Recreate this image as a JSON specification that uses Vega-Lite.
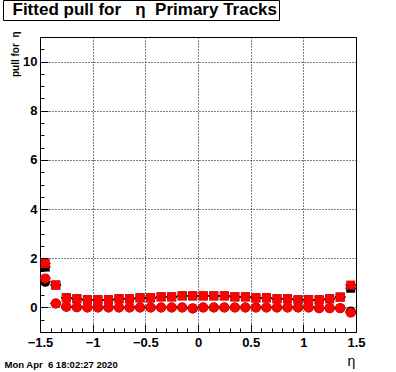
{
  "$schema": "https://vega.github.io/schema/vega-lite/v6.json",
  "width": 316,
  "height": 295,
  "autosize": {"type": "none"},
  "padding": {"left": 40, "top": 37, "right": 40, "bottom": 40},
  "config": {
    "font": "Liberation Sans",
    "view": {"stroke": "black", "strokeWidth": 1},
    "axis": {"labelFlush": false, "labelOverlap": false, "labelBound": false, "domain": false, "tickColor": "black", "labelColor": "black", "titleColor": "black"}
  },
  "data": {"values": [
      {"eta": -1.45, "lo": -1.5, "hi": -1.4, "s": "sq", "red": 1.79, "blk": 1.64},
      {"eta": -1.35, "lo": -1.4, "hi": -1.3, "s": "sq", "red": 0.91, "blk": 0.91},
      {"eta": -1.25, "lo": -1.3, "hi": -1.2, "s": "sq", "red": 0.39, "blk": 0.39},
      {"eta": -1.15, "lo": -1.2, "hi": -1.1, "s": "sq", "red": 0.35, "blk": 0.35},
      {"eta": -1.05, "lo": -1.1, "hi": -1.0, "s": "sq", "red": 0.31, "blk": 0.31},
      {"eta": -0.95, "lo": -1.0, "hi": -0.9, "s": "sq", "red": 0.31, "blk": 0.31},
      {"eta": -0.85, "lo": -0.9, "hi": -0.8, "s": "sq", "red": 0.31, "blk": 0.31},
      {"eta": -0.75, "lo": -0.8, "hi": -0.7, "s": "sq", "red": 0.35, "blk": 0.35},
      {"eta": -0.65, "lo": -0.7, "hi": -0.6, "s": "sq", "red": 0.35, "blk": 0.35},
      {"eta": -0.55, "lo": -0.6, "hi": -0.5, "s": "sq", "red": 0.39, "blk": 0.39},
      {"eta": -0.45, "lo": -0.5, "hi": -0.4, "s": "sq", "red": 0.39, "blk": 0.39},
      {"eta": -0.35, "lo": -0.4, "hi": -0.3, "s": "sq", "red": 0.43, "blk": 0.43},
      {"eta": -0.25, "lo": -0.3, "hi": -0.2, "s": "sq", "red": 0.43, "blk": 0.43},
      {"eta": -0.15, "lo": -0.2, "hi": -0.1, "s": "sq", "red": 0.47, "blk": 0.47},
      {"eta": -0.05, "lo": -0.1, "hi": 0.0, "s": "sq", "red": 0.47, "blk": 0.47},
      {"eta": 0.05, "lo": 0.0, "hi": 0.1, "s": "sq", "red": 0.47, "blk": 0.47},
      {"eta": 0.15, "lo": 0.1, "hi": 0.2, "s": "sq", "red": 0.47, "blk": 0.47},
      {"eta": 0.25, "lo": 0.2, "hi": 0.3, "s": "sq", "red": 0.47, "blk": 0.47},
      {"eta": 0.35, "lo": 0.3, "hi": 0.4, "s": "sq", "red": 0.43, "blk": 0.43},
      {"eta": 0.45, "lo": 0.4, "hi": 0.5, "s": "sq", "red": 0.43, "blk": 0.43},
      {"eta": 0.55, "lo": 0.5, "hi": 0.6, "s": "sq", "red": 0.39, "blk": 0.39},
      {"eta": 0.65, "lo": 0.6, "hi": 0.7, "s": "sq", "red": 0.39, "blk": 0.39},
      {"eta": 0.75, "lo": 0.7, "hi": 0.8, "s": "sq", "red": 0.35, "blk": 0.35},
      {"eta": 0.85, "lo": 0.8, "hi": 0.9, "s": "sq", "red": 0.35, "blk": 0.35},
      {"eta": 0.95, "lo": 0.9, "hi": 1.0, "s": "sq", "red": 0.31, "blk": 0.31},
      {"eta": 1.05, "lo": 1.0, "hi": 1.1, "s": "sq", "red": 0.31, "blk": 0.31},
      {"eta": 1.15, "lo": 1.1, "hi": 1.2, "s": "sq", "red": 0.31, "blk": 0.31},
      {"eta": 1.25, "lo": 1.2, "hi": 1.3, "s": "sq", "red": 0.35, "blk": 0.35},
      {"eta": 1.35, "lo": 1.3, "hi": 1.4, "s": "sq", "red": 0.42, "blk": 0.42},
      {"eta": 1.45, "lo": 1.4, "hi": 1.5, "s": "sq", "red": 0.91, "blk": 0.78},
      {"eta": -1.45, "lo": -1.5, "hi": -1.4, "s": "ci", "red": 1.18, "blk": 1.04},
      {"eta": -1.35, "lo": -1.4, "hi": -1.3, "s": "ci", "red": 0.16, "blk": 0.16},
      {"eta": -1.25, "lo": -1.3, "hi": -1.2, "s": "ci", "red": 0.03, "blk": 0.03},
      {"eta": -1.15, "lo": -1.2, "hi": -1.1, "s": "ci", "red": 0.01, "blk": 0.01},
      {"eta": -1.05, "lo": -1.1, "hi": -1.0, "s": "ci", "red": 0.0, "blk": 0.0},
      {"eta": -0.95, "lo": -1.0, "hi": -0.9, "s": "ci", "red": 0.0, "blk": 0.0},
      {"eta": -0.85, "lo": -0.9, "hi": -0.8, "s": "ci", "red": 0.0, "blk": 0.0},
      {"eta": -0.75, "lo": -0.8, "hi": -0.7, "s": "ci", "red": 0.0, "blk": 0.0},
      {"eta": -0.65, "lo": -0.7, "hi": -0.6, "s": "ci", "red": 0.0, "blk": 0.0},
      {"eta": -0.55, "lo": -0.6, "hi": -0.5, "s": "ci", "red": 0.0, "blk": 0.0},
      {"eta": -0.45, "lo": -0.5, "hi": -0.4, "s": "ci", "red": 0.0, "blk": 0.0},
      {"eta": -0.35, "lo": -0.4, "hi": -0.3, "s": "ci", "red": 0.0, "blk": 0.0},
      {"eta": -0.25, "lo": -0.3, "hi": -0.2, "s": "ci", "red": 0.0, "blk": 0.0},
      {"eta": -0.15, "lo": -0.2, "hi": -0.1, "s": "ci", "red": 0.0, "blk": 0.0},
      {"eta": -0.05, "lo": -0.1, "hi": 0.0, "s": "ci", "red": -0.04, "blk": -0.04},
      {"eta": 0.05, "lo": 0.0, "hi": 0.1, "s": "ci", "red": 0.0, "blk": 0.0},
      {"eta": 0.15, "lo": 0.1, "hi": 0.2, "s": "ci", "red": 0.0, "blk": 0.0},
      {"eta": 0.25, "lo": 0.2, "hi": 0.3, "s": "ci", "red": 0.0, "blk": 0.0},
      {"eta": 0.35, "lo": 0.3, "hi": 0.4, "s": "ci", "red": 0.0, "blk": 0.0},
      {"eta": 0.45, "lo": 0.4, "hi": 0.5, "s": "ci", "red": 0.0, "blk": 0.0},
      {"eta": 0.55, "lo": 0.5, "hi": 0.6, "s": "ci", "red": 0.0, "blk": 0.0},
      {"eta": 0.65, "lo": 0.6, "hi": 0.7, "s": "ci", "red": 0.0, "blk": 0.0},
      {"eta": 0.75, "lo": 0.7, "hi": 0.8, "s": "ci", "red": 0.0, "blk": 0.0},
      {"eta": 0.85, "lo": 0.8, "hi": 0.9, "s": "ci", "red": 0.0, "blk": 0.0},
      {"eta": 0.95, "lo": 0.9, "hi": 1.0, "s": "ci", "red": 0.0, "blk": 0.0},
      {"eta": 1.05, "lo": 1.0, "hi": 1.1, "s": "ci", "red": 0.0, "blk": 0.0},
      {"eta": 1.15, "lo": 1.1, "hi": 1.2, "s": "ci", "red": -0.03, "blk": -0.03},
      {"eta": 1.25, "lo": 1.2, "hi": 1.3, "s": "ci", "red": -0.03, "blk": -0.03},
      {"eta": 1.35, "lo": 1.3, "hi": 1.4, "s": "ci", "red": -0.03, "blk": -0.03},
      {"eta": 1.45, "lo": 1.4, "hi": 1.5, "s": "ci", "red": -0.22, "blk": -0.17}
  ]},
  "resolve": {"axis": {"x": "independent", "y": "independent"}},
  "layer": [
    {
      "mark": {"type": "rule", "color": "black", "strokeWidth": 1.5},
      "encoding": {
        "x": {"field": "lo", "type": "quantitative", "scale": {"domain": [-1.5, 1.5], "nice": false, "zero": false},
          "axis": {"orient": "bottom", "values": [-1.5, -1, -0.5, 0, 0.5, 1, 1.5], "format": "~g", "grid": true, "gridColor": "black", "gridDash": [1, 2], "gridOpacity": 1, "tickSize": -8, "labelFontSize": 13, "labelFontWeight": "bold", "labelPadding": 12, "title": "η", "titleFontSize": 14, "titleFontWeight": "normal", "titleX": 311, "titleY": 29, "titleAlign": "center", "titleBaseline": "middle"}},
        "x2": {"field": "hi"},
        "y": {"field": "blk", "type": "quantitative", "scale": {"domain": [-1, 11], "nice": false, "zero": false},
          "axis": {"orient": "left", "values": [0, 2, 4, 6, 8, 10], "grid": true, "gridColor": "black", "gridDash": [1, 2], "gridOpacity": 1, "tickSize": -8, "labelFontSize": 13, "labelFontWeight": "bold", "labelPadding": 11, "title": "pull for\u00a0\u00a0η", "titleFontSize": 10, "titleFontWeight": "bold", "titleAngle": 270, "titleAlign": "right", "titleBaseline": "alphabetic", "titleX": -22, "titleY": -6}}
      }
    },
    {
      "mark": {"type": "rule", "color": "black", "strokeWidth": 1.5},
      "encoding": {
        "x": {"field": "lo", "type": "quantitative", "scale": {"domain": [-1.5, 1.5], "nice": false, "zero": false},
          "axis": {"orient": "bottom", "values": [-1.5, -1.4, -1.3, -1.2, -1.1, -1, -0.9, -0.8, -0.7, -0.6, -0.5, -0.4, -0.3, -0.2, -0.1, 0, 0.1, 0.2, 0.3, 0.4, 0.5, 0.6, 0.7, 0.8, 0.9, 1, 1.1, 1.2, 1.3, 1.4, 1.5], "labels": false, "grid": false, "tickSize": -4, "title": "Mon Apr\u00a0\u00a06 18:02:27 2020", "titleFontSize": 9.5, "titleFontWeight": "bold", "titleX": -36, "titleY": 32, "titleAlign": "left", "titleBaseline": "middle"}},
        "x2": {"field": "hi"},
        "y": {"field": "red", "type": "quantitative", "scale": {"domain": [-1, 11], "nice": false, "zero": false},
          "axis": {"orient": "left", "values": [-1, -0.5, 0, 0.5, 1, 1.5, 2, 2.5, 3, 3.5, 4, 4.5, 5, 5.5, 6, 6.5, 7, 7.5, 8, 8.5, 9, 9.5, 10, 10.5, 11], "labels": false, "grid": false, "tickSize": -4, "title": null}}
      }
    },
    {
      "mark": {"type": "point", "filled": true, "opacity": 1, "color": "black"},
      "encoding": {
        "x": {"field": "eta", "type": "quantitative", "scale": {"domain": [-1.5, 1.5], "nice": false, "zero": false}, "axis": null},
        "y": {"field": "blk", "type": "quantitative", "scale": {"domain": [-1, 11], "nice": false, "zero": false}, "axis": null},
        "shape": {"field": "s", "type": "nominal", "scale": {"domain": ["sq", "ci"], "range": ["square", "circle"]}, "legend": null},
        "size": {"field": "s", "type": "nominal", "scale": {"domain": ["sq", "ci"], "range": [81, 100]}, "legend": null}
      }
    },
    {
      "mark": {"type": "point", "filled": true, "opacity": 1},
      "encoding": {
        "x": {"field": "eta", "type": "quantitative", "scale": {"domain": [-1.5, 1.5], "nice": false, "zero": false}, "axis": null},
        "y": {"field": "red", "type": "quantitative", "scale": {"domain": [-1, 11], "nice": false, "zero": false}, "axis": null},
        "color": {"datum": "Fitted pull for\u00a0\u00a0\u00a0η\u00a0\u00a0Primary Tracks\u00a0\u00a0\u00a0\u00a0", "type": "nominal",
          "scale": {"range": ["#ff0000"]},
          "legend": {"orient": "none", "legendX": -37, "legendY": -37, "title": null, "strokeColor": "black", "fillColor": "white", "cornerRadius": 0, "padding": 1.5, "symbolSize": 0, "symbolOpacity": 0, "labelOffset": -9, "labelLimit": 0, "labelFont": "Liberation Sans", "labelFontWeight": "bold", "labelFontSize": 17, "labelColor": "black"}},
        "shape": {"field": "s", "type": "nominal", "scale": {"domain": ["sq", "ci"], "range": ["square", "circle"]}, "legend": null},
        "size": {"field": "s", "type": "nominal", "scale": {"domain": ["sq", "ci"], "range": [81, 100]}, "legend": null}
      }
    }
  ]
}
